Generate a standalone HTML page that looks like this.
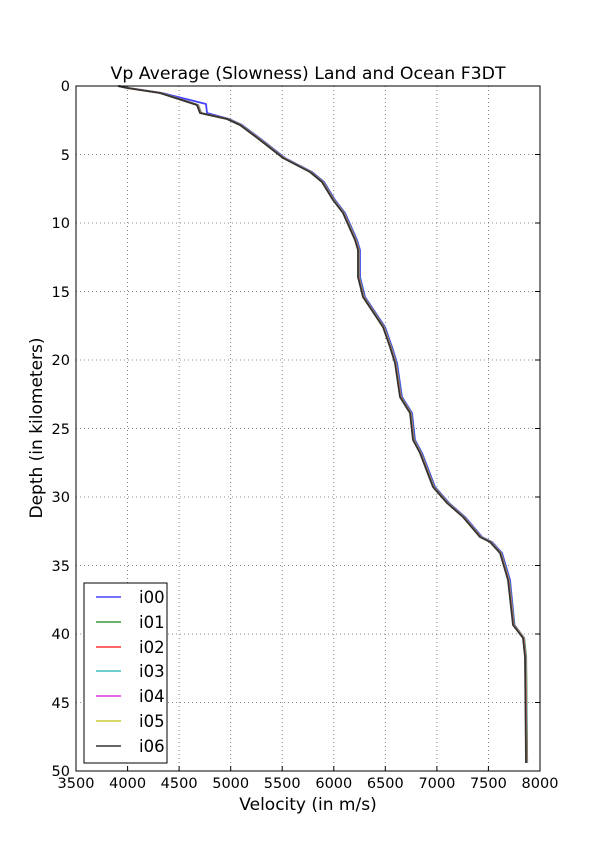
<!DOCTYPE html>
<html><head><meta charset="utf-8"><style>
html,body{margin:0;padding:0;background:#fff}
svg{display:block}
text{font-family:"DejaVu Sans","Liberation Sans",sans-serif;fill:#000}
</style></head><body>
<svg width="600" height="857" viewBox="0 0 600 857" xmlns="http://www.w3.org/2000/svg">
<rect width="600" height="857" fill="#fff"/>
<g stroke="#000" stroke-width="0.8" stroke-dasharray="1,3" opacity="0.6">
<line x1="127.6" y1="86" x2="127.6" y2="771"/><line x1="179.1" y1="86" x2="179.1" y2="771"/>
<line x1="230.7" y1="86" x2="230.7" y2="771"/><line x1="282.2" y1="86" x2="282.2" y2="771"/>
<line x1="333.8" y1="86" x2="333.8" y2="771"/><line x1="385.3" y1="86" x2="385.3" y2="771"/>
<line x1="436.9" y1="86" x2="436.9" y2="771"/><line x1="488.4" y1="86" x2="488.4" y2="771"/>
<line x1="76" y1="154.5" x2="540" y2="154.5"/><line x1="76" y1="223" x2="540" y2="223"/>
<line x1="76" y1="291.5" x2="540" y2="291.5"/><line x1="76" y1="360" x2="540" y2="360"/>
<line x1="76" y1="428.5" x2="540" y2="428.5"/><line x1="76" y1="497" x2="540" y2="497"/>
<line x1="76" y1="565.5" x2="540" y2="565.5"/><line x1="76" y1="634" x2="540" y2="634"/>
<line x1="76" y1="702.5" x2="540" y2="702.5"/>
</g>
<defs>
<path id="c" d="M118,86 L127,88 L160,93 L197,105 L200,113 L227,119 L240,125 L260,140 L283,158 L310,172 L322,182 L333,200 L343,213 L355,240 L358,250 L358,277 L363,297 L383,327 L390,347 L395,363 L400,397 L410,413 L413,440 L420,453 L433,487 L447,503 L463,517 L480,537 L490,542 L500,553 L503,563 L508,580 L513,625 L523,638 L525,657 L526,763" fill="none" stroke-width="1.8" stroke-linejoin="round"/>
</defs>
<path d="M119.5,86 L129,88 L162,93 L206,104 L207,113 L229,119 L242,125 L262,140 L285,158 L312,172 L324,182 L335,200 L345,213 L357,240 L360,250 L360,277 L365,297 L385,327 L392,347 L397,363 L402,397 L412,413 L415,440 L422,453 L435,487 L449,503 L465,517 L482,537 L492,542 L502,553 L505,563 L510,580 L514.5,625 L524,638 L526,657 L527,763" fill="none" stroke="#4444ff" stroke-width="1.8" stroke-linejoin="round"/>
<use href="#c" stroke="#3a9a3a" transform="translate(1.2,0)"/>
<use href="#c" stroke="#40c0c0" transform="translate(0.9,0)"/>
<use href="#c" stroke="#ff3333" transform="translate(0.6,0)"/>
<use href="#c" stroke="#dd33dd" transform="translate(0.4,0)"/>
<use href="#c" stroke="#cccc33" transform="translate(0.2,0)"/>
<use href="#c" stroke="#333"/>
<rect x="76" y="86" width="464" height="685" fill="none" stroke="#000" stroke-width="1"/>
<g stroke="#000" stroke-width="1">
<line x1="127.6" y1="771" x2="127.6" y2="766"/><line x1="179.1" y1="771" x2="179.1" y2="766"/><line x1="230.7" y1="771" x2="230.7" y2="766"/><line x1="282.2" y1="771" x2="282.2" y2="766"/><line x1="333.8" y1="771" x2="333.8" y2="766"/><line x1="385.3" y1="771" x2="385.3" y2="766"/><line x1="436.9" y1="771" x2="436.9" y2="766"/><line x1="488.4" y1="771" x2="488.4" y2="766"/>
<line x1="540" y1="154.5" x2="535" y2="154.5"/><line x1="540" y1="223" x2="535" y2="223"/><line x1="540" y1="291.5" x2="535" y2="291.5"/><line x1="540" y1="360" x2="535" y2="360"/><line x1="540" y1="428.5" x2="535" y2="428.5"/><line x1="540" y1="497" x2="535" y2="497"/><line x1="540" y1="565.5" x2="535" y2="565.5"/><line x1="540" y1="634" x2="535" y2="634"/><line x1="540" y1="702.5" x2="535" y2="702.5"/>
</g>
<g font-size="14.5" text-anchor="middle">
<text x="76" y="788">3500</text><text x="127.6" y="788">4000</text><text x="179.1" y="788">4500</text><text x="230.7" y="788">5000</text><text x="282.2" y="788">5500</text><text x="333.8" y="788">6000</text><text x="385.3" y="788">6500</text><text x="436.9" y="788">7000</text><text x="488.4" y="788">7500</text><text x="540" y="788">8000</text>
</g>
<g font-size="14.5" text-anchor="end">
<text x="70" y="91">0</text><text x="70" y="160">5</text><text x="70" y="228">10</text><text x="70" y="297">15</text><text x="70" y="365">20</text><text x="70" y="434">25</text><text x="70" y="502">30</text><text x="70" y="571">35</text><text x="70" y="639">40</text><text x="70" y="708">45</text><text x="70" y="776">50</text>
</g>
<text x="308" y="79" font-size="17.3" text-anchor="middle">Vp Average (Slowness) Land and Ocean F3DT</text>
<text x="308" y="810" font-size="17" text-anchor="middle">Velocity (in m/s)</text>
<text transform="translate(42,428) rotate(-90)" font-size="17" text-anchor="middle">Depth (in kilometers)</text>
<rect x="84" y="583" width="83" height="180" fill="#fff" stroke="#000" stroke-width="1"/>
<g stroke-width="1.5">
<line x1="96" y1="597" x2="121" y2="597" stroke="#4444ff"/>
<line x1="96" y1="622" x2="121" y2="622" stroke="#3a9a3a"/>
<line x1="96" y1="647" x2="121" y2="647" stroke="#ff3333"/>
<line x1="96" y1="671" x2="121" y2="671" stroke="#40c0c0"/>
<line x1="96" y1="696" x2="121" y2="696" stroke="#dd33dd"/>
<line x1="96" y1="721" x2="121" y2="721" stroke="#cccc33"/>
<line x1="96" y1="746" x2="121" y2="746" stroke="#333"/>
</g>
<g font-size="16.5">
<text x="139" y="603">i00</text><text x="139" y="628">i01</text><text x="139" y="653">i02</text><text x="139" y="677">i03</text><text x="139" y="702">i04</text><text x="139" y="727">i05</text><text x="139" y="752">i06</text>
</g>
</svg>
</body></html>
